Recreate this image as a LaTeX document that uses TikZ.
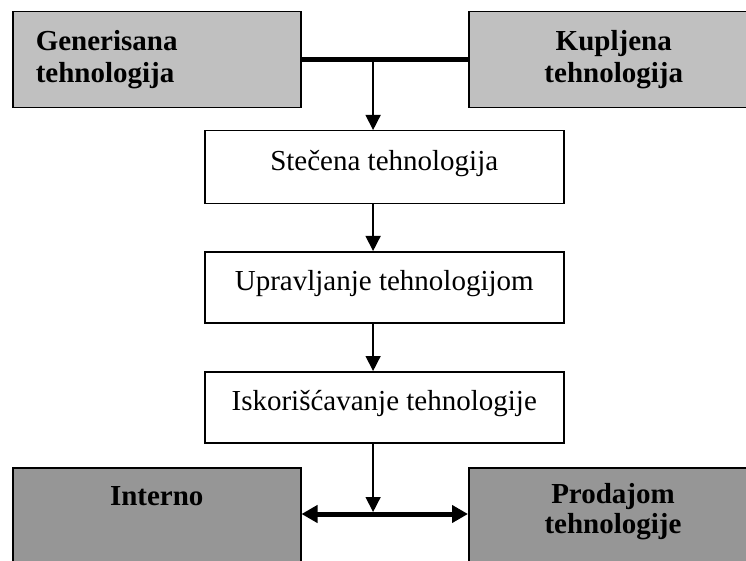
\documentclass[tikz,border=0pt]{standalone}
\usepackage{fontspec}
\setmainfont{Liberation Serif}
\usetikzlibrary{arrows.meta}
\definecolor{lightbox}{HTML}{C0C0C0}
\definecolor{darkbox}{HTML}{969696}
\begin{document}
\begin{tikzpicture}[x=1pt,y=-1pt,
  basebox/.style={draw=black, line width=1.5pt, rectangle, anchor=north west, inner sep=0pt},
  topbox/.style={basebox, fill=lightbox, minimum height=96pt, font=\fontsize{29}{32}\selectfont\bfseries},
  botbox/.style={basebox, fill=darkbox, minimum height=130pt},
  midbox/.style={basebox, fill=white, minimum width=359pt, font=\fontsize{29}{32}\selectfont, text height=20pt, text depth=13pt},
  bottext/.style={font=\fontsize{29}{30}\selectfont\bfseries, align=center, anchor=base, inner sep=0pt},
  flowarrow/.style={line width=1.5pt, -{Triangle[width=15pt,length=15pt]}},
  bar/.style={line width=5pt},
  dblbar/.style={line width=5pt, {Triangle[width=17pt,length=16pt]}-{Triangle[width=17pt,length=16pt]}}
]
\clip (0,0) rectangle (746,561);
\fill[white] (0,0) rectangle (746,561);

% top boxes
\node[topbox, minimum width=288pt, inner xsep=23pt, text width=242pt, align=left] (gen) at (12,11) {Generisana\\tehnologija};
\node[topbox, minimum width=290pt, text width=290pt, align=center] (kup) at (468,11) {Kupljena\\tehnologija};

% middle boxes
\node[midbox, minimum height=73pt] (stec) at (204,130) {Stečena tehnologija};
\node[midbox, minimum height=71pt] (upr) at (204,251) {Upravljanje tehnologijom};
\node[midbox, minimum height=71pt] (isk) at (204,371) {Iskorišćavanje tehnologije};

% bottom boxes
\node[botbox, minimum width=288pt] (intern) at (12,467) {};
\node[botbox, minimum width=290pt] (prod) at (468,467) {};
\node[bottext] (internT) at ([yshift=-38.5pt]intern.north) {Interno};
\node[bottext] (prodT) at ([yshift=-66.5pt]prod.north -| 613,0) {Prodajom\\tehnologije};

% connectors
\path (gen.east) -- (kup.west) coordinate[pos=0.43] (j1);
\draw[flowarrow] (j1) -- (j1 |- stec.north);
\draw[bar] (gen.east) -- (kup.west);
\draw[flowarrow] (j1 |- stec.south) -- (j1 |- upr.north);
\draw[flowarrow] (j1 |- upr.south) -- (j1 |- isk.north);
\coordinate (j2) at (j1 |- 0,514);
\draw[flowarrow, shorten >=2pt] (j1 |- isk.south) -- (j2);
\draw[dblbar] (intern.east |- j2) -- (prod.west |- j2);
\end{tikzpicture}
\end{document}
